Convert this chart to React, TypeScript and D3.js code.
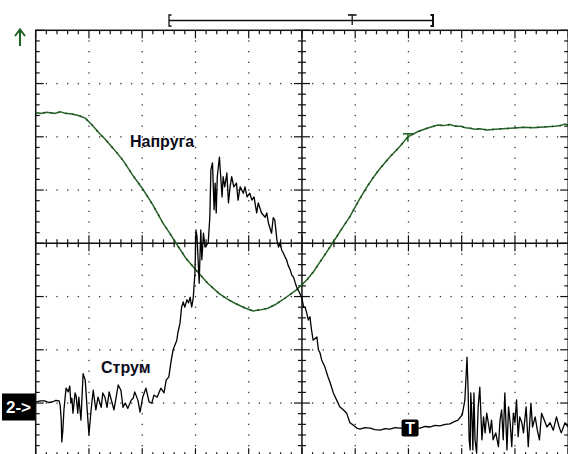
import React from 'react';
import * as d3 from 'd3';

const W = 568;
const H = 454;

// Screen divisions of the oscilloscope
const xDivs = [0, 10];
const yDivs = [-4, 4];
const minorPerDiv = 5;

// Channel 1 (voltage) trace: [time div, value div]
const voltage: [number, number][] = [
  [0.0, 2.45], [0.1, 2.44], [0.2, 2.46], [0.27, 2.45], [0.36, 2.44], [0.46, 2.47], [0.56, 2.44],
  [0.68, 2.43], [0.8, 2.4], [0.93, 2.35], [1.06, 2.22], [1.19, 2.07], [1.31, 1.95], [1.43, 1.81],
  [1.55, 1.67], [1.66, 1.53], [1.82, 1.28], [2.01, 1.02], [2.2, 0.72], [2.39, 0.38], [2.51, 0.2],
  [2.63, 0.01], [2.82, -0.28], [3.01, -0.5], [3.23, -0.75], [3.44, -0.94], [3.6, -1.05],
  [3.75, -1.13], [3.92, -1.21], [4.08, -1.27], [4.22, -1.25], [4.36, -1.22], [4.5, -1.15],
  [4.64, -1.06], [4.89, -0.88], [5.09, -0.69], [5.22, -0.53], [5.34, -0.35], [5.46, -0.17],
  [5.58, 0.01], [5.74, 0.26], [5.9, 0.5], [6.06, 0.79], [6.22, 1.06], [6.35, 1.25], [6.47, 1.41],
  [6.65, 1.62], [6.83, 1.81], [6.99, 2.0], [7.18, 2.1], [7.35, 2.16], [7.55, 2.22], [7.66, 2.21],
  [7.78, 2.23], [7.88, 2.2], [7.97, 2.2], [8.07, 2.17], [8.16, 2.16], [8.25, 2.14], [8.34, 2.15],
  [8.48, 2.13], [8.62, 2.14], [8.77, 2.15], [8.91, 2.16], [9.05, 2.17], [9.19, 2.18], [9.33, 2.17],
  [9.47, 2.18], [9.61, 2.19], [9.75, 2.2], [9.85, 2.21], [9.94, 2.24], [10.0, 2.22],
];

// Channel 2 (current) trace: [time div, value div]
const current: [number, number][] = [
  [0.01, -2.98], [0.09, -2.96], [0.17, -2.96], [0.24, -2.99], [0.31, -2.98], [0.38, -2.95],
  [0.44, -2.96], [0.46, -3.04], [0.48, -3.32], [0.49, -3.73], [0.51, -3.51], [0.53, -3.13],
  [0.57, -2.72], [0.61, -2.79], [0.64, -2.68], [0.66, -3.0], [0.68, -2.91], [0.7, -3.19],
  [0.74, -2.81], [0.76, -2.87], [0.79, -3.19], [0.81, -2.89], [0.85, -3.32], [0.89, -2.45],
  [0.93, -2.57], [0.98, -3.32], [1.0, -3.6], [1.04, -3.13], [1.08, -2.76], [1.13, -3.13],
  [1.17, -2.89], [1.23, -3.08], [1.26, -2.81], [1.3, -2.89], [1.34, -3.08], [1.38, -2.79],
  [1.43, -2.98], [1.47, -3.13], [1.55, -2.66], [1.6, -2.76], [1.64, -3.08], [1.68, -3.0],
  [1.73, -3.1], [1.79, -2.95], [1.83, -2.91], [1.86, -2.79], [1.92, -2.95], [1.96, -3.17],
  [2.01, -2.89], [2.07, -2.72], [2.13, -2.98], [2.18, -3.0], [2.22, -2.85], [2.28, -2.89],
  [2.35, -2.72], [2.41, -2.81], [2.45, -2.57], [2.5, -2.51], [2.54, -2.23], [2.58, -2.0],
  [2.65, -1.82], [2.67, -1.68], [2.71, -1.5], [2.74, -1.2], [2.77, -1.1], [2.8, -1.2],
  [2.84, -1.06], [2.87, -1.12], [2.9, -1.01], [2.93, -1.2], [2.96, -1.01], [2.99, -0.56],
  [3.01, 0.25], [3.03, 0.12], [3.05, -0.31], [3.07, -0.75], [3.1, 0.25], [3.12, -0.31],
  [3.14, 0.01], [3.15, 0.19], [3.18, -0.07], [3.24, 0.01], [3.27, 0.49], [3.29, 1.38],
  [3.32, 1.51], [3.35, 0.63], [3.37, 1.13], [3.39, 0.57], [3.41, 1.25], [3.45, 1.62],
  [3.47, 1.32], [3.5, 0.87], [3.52, 1.25], [3.55, 1.06], [3.59, 1.32], [3.62, 0.76],
  [3.65, 1.06], [3.68, 1.25], [3.72, 1.06], [3.77, 1.13], [3.8, 0.81], [3.84, 1.06],
  [3.9, 0.94], [3.93, 1.06], [3.97, 0.87], [4.02, 0.94], [4.06, 0.81], [4.1, 0.87],
  [4.15, 0.57], [4.18, 0.76], [4.24, 0.57], [4.31, 0.49], [4.34, 0.57], [4.37, 0.38],
  [4.43, 0.19], [4.46, 0.48], [4.49, 0.44], [4.53, 0.06], [4.56, -0.07], [4.59, 0.01],
  [4.62, -0.13], [4.65, -0.18], [4.68, -0.25], [4.71, -0.31], [4.74, -0.41], [4.78, -0.5],
  [4.81, -0.6], [4.84, -0.63], [4.87, -0.73], [4.9, -0.82], [4.93, -0.88], [4.96, -0.94],
  [5.0, -1.03], [5.03, -1.2], [5.06, -1.2], [5.09, -1.31], [5.12, -1.44], [5.15, -1.38],
  [5.18, -1.63], [5.21, -1.82], [5.28, -1.76], [5.31, -2.0], [5.34, -2.06], [5.37, -2.19],
  [5.43, -2.32], [5.49, -2.51], [5.53, -2.62], [5.59, -2.81], [5.65, -2.94], [5.71, -3.07],
  [5.78, -3.13], [5.84, -3.19], [5.9, -3.37], [5.96, -3.41], [6.03, -3.47], [6.09, -3.49],
  [6.18, -3.46], [6.28, -3.47], [6.37, -3.5], [6.47, -3.51], [6.56, -3.48], [6.65, -3.49],
  [6.75, -3.46], [6.84, -3.47], [7.03, -3.47], [7.22, -3.47], [7.31, -3.44], [7.4, -3.45],
  [7.5, -3.42], [7.59, -3.43], [7.69, -3.4], [7.78, -3.39], [7.86, -3.35], [7.93, -3.32],
  [8.01, -3.22], [8.06, -2.94], [8.1, -2.14], [8.12, -2.75], [8.14, -3.69], [8.16, -3.88],
  [8.17, -2.81], [8.19, -3.19], [8.21, -3.88], [8.23, -2.81], [8.25, -3.69], [8.28, -3.94],
  [8.31, -3.07], [8.34, -2.7], [8.38, -3.69], [8.41, -3.26], [8.44, -3.56], [8.47, -3.19],
  [8.5, -3.37], [8.53, -3.56], [8.56, -3.32], [8.59, -3.69], [8.64, -3.56], [8.69, -3.82],
  [8.72, -3.32], [8.75, -3.13], [8.78, -3.69], [8.81, -2.81], [8.85, -3.88], [8.88, -3.07],
  [8.91, -3.37], [8.94, -3.82], [8.97, -3.19], [9.0, -3.37], [9.03, -2.94], [9.06, -3.63],
  [9.09, -3.26], [9.13, -3.37], [9.16, -3.56], [9.21, -3.07], [9.25, -3.82], [9.3, -3.0],
  [9.33, -3.45], [9.38, -3.26], [9.42, -3.51], [9.46, -3.69], [9.5, -3.19], [9.55, -3.32],
  [9.6, -3.45], [9.66, -3.37], [9.72, -3.51], [9.78, -3.26], [9.83, -3.45], [9.87, -3.56],
  [9.94, -3.37], [10.0, -3.45],
];

const traceLabels = ['Напруга', 'Струм'];
const channelTag = '2->';
const triggerTag = 'T';

const FONT = "'Liberation Sans', Arial, sans-serif";
const GREEN = '#2a632a';

export default function App() {
  const x = d3.scaleLinear().domain(xDivs).range([35.7, 568.2]);
  const y = d3.scaleLinear().domain(yDivs).range([456.3, 30.3]);

  const step = 1 / minorPerDiv;
  const xMinor = d3.range(xDivs[0], xDivs[1] + 1e-9, step);
  const yMinor = d3.range(yDivs[0], yDivs[1] + 1e-9, step);
  const isMajor = (v: number) => Math.abs(v - Math.round(v)) < 1e-6;

  const line = d3
    .line<[number, number]>()
    .x((d) => x(d[0]))
    .y((d) => y(d[1]));

  const dots: JSX.Element[] = [];
  for (let i = xDivs[0] + 1; i < xDivs[1]; i++) {
    if (i === 5) continue;
    yMinor.forEach((v, k) => {
      if (k === 0 || k === yMinor.length - 1) return;
      dots.push(<rect key={`v${i}-${k}`} x={x(i) - 0.6} y={y(v) - 0.6} width={1.3} height={1.3} fill="#333" />);
    });
  }
  for (let j = yDivs[0] + 1; j < yDivs[1]; j++) {
    if (j === 0) continue;
    xMinor.forEach((v, k) => {
      if (k === 0 || k === xMinor.length - 1) return;
      if (isMajor(v)) return;
      dots.push(<rect key={`h${j}-${k}`} x={x(v) - 0.6} y={y(j) - 0.6} width={1.3} height={1.3} fill="#333" />);
    });
  }

  const ticks: JSX.Element[] = [];
  const x0 = x(xDivs[0]);
  const x1 = x(xDivs[1]);
  const y0 = y(yDivs[1]);
  const y1 = y(yDivs[0]);
  const cx = x(5);
  const cy = y(0);
  xMinor.forEach((v, k) => {
    const len = isMajor(v) ? 8 : 4;
    const px = x(v);
    ticks.push(<line key={`tt${k}`} x1={px} x2={px} y1={y0} y2={y0 + len} />);
    ticks.push(<line key={`tb${k}`} x1={px} x2={px} y1={y1} y2={y1 - len} />);
    const cl = isMajor(v) ? 8 : 4;
    ticks.push(<line key={`tc${k}`} x1={px} x2={px} y1={cy - cl} y2={cy + cl} />);
  });
  yMinor.forEach((v, k) => {
    const len = isMajor(v) ? 8 : 4;
    const py = y(v);
    ticks.push(<line key={`tl${k}`} x1={x0} x2={x0 + len} y1={py} y2={py} />);
    ticks.push(<line key={`tr${k}`} x1={x1} x2={x1 - len} y1={py} y2={py} />);
    const cl = isMajor(v) ? 8 : 4;
    ticks.push(<line key={`tcy${k}`} x1={cx - cl} x2={cx + cl} y1={py} y2={py} />);
  });

  const trigX = x(7.03);
  const trigY = y(-3.47);

  return (
    <svg
      width={W}
      height={H}
      style={{ position: 'absolute', left: 0, top: 0, background: '#fff' }}
    >
      <rect x={0} y={0} width={W} height={H} fill="#fff" />
      {dots}
      <g stroke="#111" strokeWidth={1.2}>
        {ticks}
        <line x1={x0} x2={x1} y1={cy} y2={cy} strokeWidth={1.5} />
        <line x1={cx} x2={cx} y1={y0} y2={y1} strokeWidth={1.5} />
        <rect x={x0} y={y0} width={x1 - x0} height={y1 - y0} fill="none" strokeWidth={1.5} />
      </g>

      {/* record length indicator */}
      <g stroke="#111" strokeWidth={1.3} fill="none">
        <line x1={169} x2={433} y1={20.5} y2={20.5} />
        <path d="M171.5,15 H169 V26 H171.5" />
        <path d="M430.5,15 H433 V26 H430.5" strokeWidth={2} />
        <line x1={348} x2={356.5} y1={15} y2={15} strokeWidth={1.6} />
        <line x1={352.2} x2={352.2} y1={15} y2={25} />
      </g>

      {/* channel 1 offset arrow */}
      <g stroke="#1f5f1f" strokeWidth={2} fill="none">
        <line x1={20} x2={20} y1={30} y2={46} />
        <path d="M15,36 L20,29.5 L25,36" />
      </g>

      {/* traces */}
      <path d={line(voltage) || ''} fill="none" stroke={GREEN} strokeWidth={1.5} />
      <path d={line(voltage) || ''} fill="none" stroke="#174a17" strokeWidth={1.6} strokeDasharray="1.5 6" />
      <line x1={x(6.99) - 5} x2={x(6.99) + 5} y1={y(2.0) - 3} y2={y(2.0) - 3} stroke="#1f5f1f" strokeWidth={1.5} />
      <line x1={x(6.99)} x2={x(6.99)} y1={y(2.0) - 3} y2={y(2.0) + 5} stroke="#1f5f1f" strokeWidth={1.5} />
      <path d={line(current) || ''} fill="none" stroke="#000" strokeWidth={1.3} strokeLinejoin="round" />

      {/* labels */}
      <text x={130} y={147} fontFamily={FONT} fontWeight="bold" fontSize={16} fill="#0b0b1a">
        {traceLabels[0]}
      </text>
      <text x={101} y={373} fontFamily={FONT} fontWeight="bold" fontSize={16} fill="#0b0b1a">
        {traceLabels[1]}
      </text>

      {/* channel 2 marker */}
      <rect x={2} y={393.5} width={33} height={27} fill="#000" />
      <text x={6} y={413} fontFamily={FONT} fontWeight="bold" fontSize={17} fill="#fff">
        {channelTag}
      </text>

      {/* trigger marker */}
      <rect x={trigX - 8.5} y={trigY - 8.5} width={17} height={17} rx={2} fill="#000" />
      <text x={trigX} y={trigY + 6} textAnchor="middle" fontFamily={FONT} fontWeight="bold" fontSize={16} fill="#fff">
        {triggerTag}
      </text>
    </svg>
  );
}
